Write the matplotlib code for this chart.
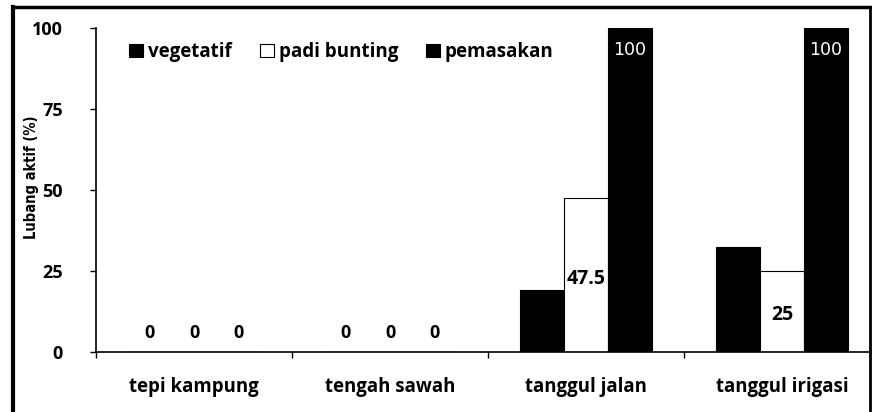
import matplotlib
matplotlib.use("Agg")
import matplotlib.pyplot as plt
from matplotlib.patches import Patch
from matplotlib.lines import Line2D

categories = ["tepi kampung", "tengah sawah", "tanggul jalan", "tanggul irigasi"]
series_names = ["vegetatif", "padi bunting", "pemasakan"]
vegetatif = [0, 0, 19, 32.5]
padi_bunting = [0, 0, 47.5, 25]
pemasakan = [0, 0, 100, 100]
yticks = [0, 25, 50, 75, 100]

plt.rcParams['font.family'] = ['Open Sans', 'DejaVu Sans']

fig = plt.figure(figsize=(8.72, 4.12), dpi=100)
ax = fig.add_axes([96/872, 1-352/412, 784/872, 324/412])

series = [vegetatif, padi_bunting, pemasakan]
faces = ["black", "white", "black"]
bw = 0.225
offsets = [-bw, 0, bw]
for vals, fc, off, name in zip(series, faces, offsets, series_names):
    xs = [i + 0.5 + off for i in range(len(categories))]
    ax.bar(xs, vals, width=bw, color=fc, edgecolor="black", linewidth=0.8, label=name, zorder=2)

# value labels
for i in range(len(categories)):
    for j, vals in enumerate(series):
        x = i + 0.5 + offsets[j]
        v = vals[i]
        if v == 0:
            ax.text(x, 6, "0", ha="center", va="center", fontsize=13, fontweight="bold")
ax.text(2.5 + offsets[1], 22.5, "47.5", ha="center", va="center", fontsize=14, fontweight="bold", zorder=3)
ax.text(3.5 + offsets[1], 11.5, "25", ha="center", va="center", fontsize=14, fontweight="bold", zorder=3)
for i in (2, 3):
    ax.text(i + 0.5 + offsets[2], 93.2, "100", ha="center", va="center",
            fontsize=12.5, color="white", fontweight="normal", family=["DejaVu Sans"], zorder=3)

ax.set_xlim(0, 4)
ax.set_ylim(0, 100)
ax.set_yticks(yticks)
ax.set_yticklabels([str(t) for t in yticks], fontsize=13, fontweight="bold")
ax.set_xticks(range(5))
ax.set_xticklabels([])
ax.set_xticks([i + 0.5 for i in range(4)], minor=True)
ax.set_xticklabels(categories, minor=True, fontsize=13.4, fontweight="bold")
ax.tick_params(axis="x", which="minor", length=0, pad=18)
ax.tick_params(axis="x", which="major", direction="out", length=4, width=1)
ax.tick_params(axis="y", direction="out", length=4, width=1, pad=20)
for s in ("top", "right"):
    ax.spines[s].set_visible(False)
ax.spines["left"].set_linewidth(1.2)
ax.spines["bottom"].set_linewidth(1.2)

ax.set_ylabel("Lubang aktif (%)", fontsize=10.5, fontweight="bold",
              family=["DejaVu Sans"], fontstretch="condensed")
ax.yaxis.set_label_coords(-(96 - 39) / 784, (352 - 177) / 324)

handles = [Patch(facecolor=fc, edgecolor="black", linewidth=0.8) for fc in faces]
ax.legend(handles, series_names, loc="upper left", bbox_to_anchor=(0.028, 0.99), ncol=3, frameon=False,
          prop={"weight": "bold", "size": 13.5}, handlelength=0.75, handleheight=0.7, handletextpad=0.25,
          columnspacing=1.5, borderaxespad=0.2)

# outer frame
fig.add_artist(Line2D([13/872, 13/872], [0, 1-7/412], color="black", linewidth=3, transform=fig.transFigure))
fig.add_artist(Line2D([13/872, 870/872], [1-7/412, 1-7/412], color="black", linewidth=2.5, transform=fig.transFigure))
fig.add_artist(Line2D([870/872, 870/872], [0, 1-7/412], color="black", linewidth=2, transform=fig.transFigure))

fig.savefig("out.png", dpi=100)
